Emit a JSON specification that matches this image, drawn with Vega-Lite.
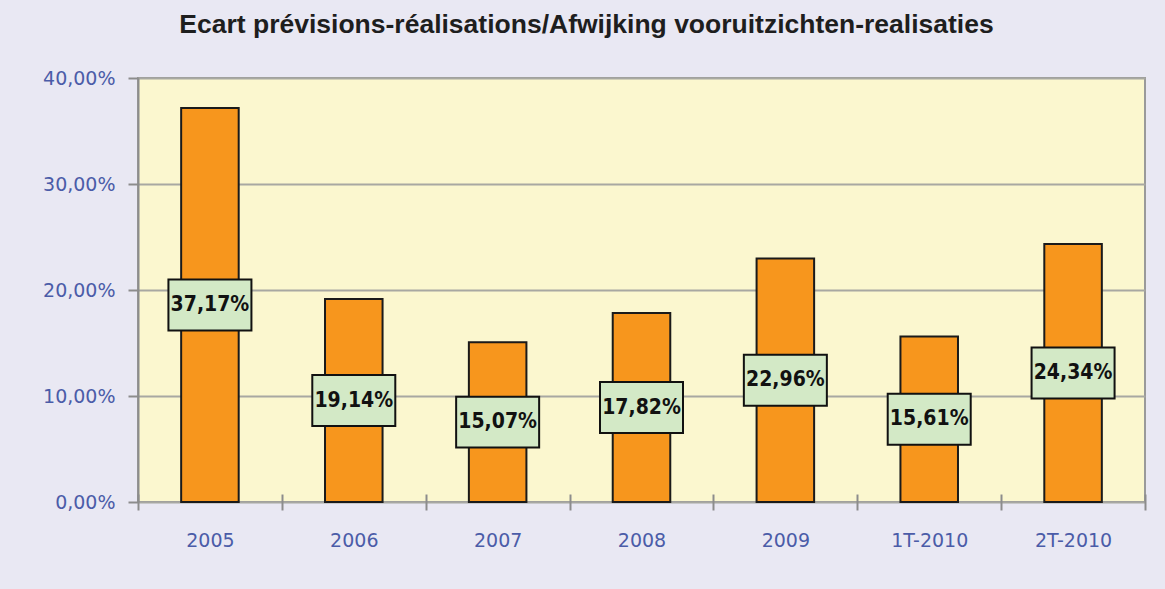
{
  "$schema": "https://vega.github.io/schema/vega-lite/v6.json",
  "width": 1007,
  "height": 424,
  "autosize": {"type": "none"},
  "padding": {"left": 138, "top": 78, "right": 20, "bottom": 87},
  "background": "#E9E8F3",
  "title": {
    "text": "Ecart prévisions-réalisations/Afwijking vooruitzichten-realisaties",
    "font": "Liberation Sans",
    "fontWeight": "bold",
    "fontSize": 26.5,
    "color": "#1E1E1E",
    "anchor": "middle",
    "frame": "group",
    "dx": -55,
    "offset": 31
  },
  "config": {
    "locale": {"number": {"decimal": ",", "thousands": ".", "grouping": [3], "currency": ["", " €"]}},
    "view": {"fill": "#FBF7CF", "stroke": "#9A9A9A", "strokeWidth": 2},
    "axis": {
      "labelFont": "DejaVu Sans",
      "labelFontSize": 19,
      "labelColor": "#4B5CA8",
      "tickColor": "#8C8C8C",
      "domainColor": "#8C8C8C",
      "domainWidth": 2,
      "tickWidth": 2,
      "gridColor": "#A8A8A2",
      "gridWidth": 2,
      "title": null
    }
  },
  "data": {
    "values": [
      {"periode": "2005", "ecart": 0.3717},
      {"periode": "2006", "ecart": 0.1914},
      {"periode": "2007", "ecart": 0.1507},
      {"periode": "2008", "ecart": 0.1782},
      {"periode": "2009", "ecart": 0.2296},
      {"periode": "1T-2010", "ecart": 0.1561},
      {"periode": "2T-2010", "ecart": 0.2434}
    ]
  },
  "encoding": {
    "x": {
      "field": "periode",
      "type": "nominal",
      "sort": null,
      "scale": {"paddingInner": 0, "paddingOuter": 0},
      "axis": {"labelAngle": 0, "grid": false, "domain": false, "tickBand": "extent", "tickSize": 16, "offset": -8, "labelPadding": 21}
    }
  },
  "layer": [
    {
      "mark": {"type": "bar", "width": {"band": 0.4}, "color": "#F7961D", "stroke": "#1A1A1A", "strokeWidth": 2},
      "encoding": {
        "y": {
          "field": "ecart",
          "type": "quantitative",
          "scale": {"domain": [0, 0.4]},
          "axis": {"format": ".2%", "values": [0, 0.1, 0.2, 0.3, 0.4], "tickSize": 10, "labelPadding": 13}
        }
      }
    },
    {
      "transform": [{"calculate": "datum.ecart / 2", "as": "mid"}],
      "mark": {"type": "point", "shape": "M-1,-0.614H1V0.614H-1Z", "size": 6889, "filled": true, "fill": "#D3E9C6", "stroke": "#111111", "strokeWidth": 2, "opacity": 1},
      "encoding": {
        "y": {"field": "mid", "type": "quantitative"}
      }
    },
    {
      "transform": [{"calculate": "datum.ecart / 2", "as": "mid"}],
      "mark": {"type": "text", "font": "DejaVu Sans Condensed, Liberation Sans", "fontWeight": "bold", "fontSize": 21, "color": "#111111", "baseline": "middle"},
      "encoding": {
        "y": {"field": "mid", "type": "quantitative"},
        "text": {"field": "ecart", "type": "quantitative", "format": ".2%"}
      }
    }
  ]
}
